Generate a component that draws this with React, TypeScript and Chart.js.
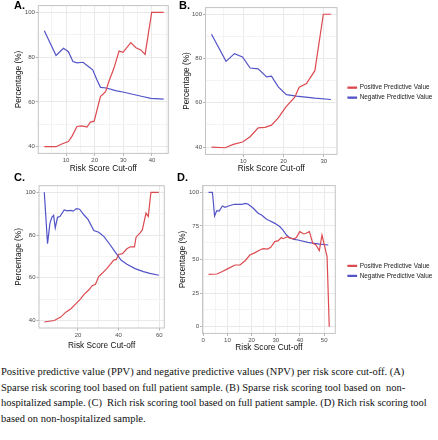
import React, { useEffect, useRef } from 'react';
import { Chart, registerables } from 'chart.js';

Chart.register(...registerables);

const PPV_LABEL = 'Positive Predictive Value';
const NPV_LABEL = 'Negative Predictive Value';
const X_TITLE = 'Risk Score Cut-off';
const Y_TITLE = 'Percentage (%)';

// Panel A
const aPpvX = [2.4, 6.5, 8.5, 10.8, 12.0, 13.8, 15.5, 17.3, 18.5, 19.8, 22.0, 23.8, 24.9, 26.7, 28.5, 29.9, 32.6, 34.4, 36.1, 37.6, 39.9, 44.1];
const aPpvY = [40, 40, 41.2, 42.3, 44.5, 49, 49.3, 48.8, 51, 51.4, 62.4, 64.6, 69, 75, 82.7, 82.1, 86.5, 84.2, 83.2, 81.2, 100, 100];
const aNpvX = [2.4, 6.5, 9.1, 10.8, 12.4, 13.8, 15.9, 17.9, 19.3, 20.8, 22.0, 24.1, 27.3, 30.2, 33.2, 36.7, 39.6, 44.1];
const aNpvY = [91.8, 80.7, 83.9, 82.4, 78, 77.4, 77.7, 75.7, 74.3, 69.8, 66.5, 66.2, 65, 64.3, 63.4, 62.4, 61.6, 61.2];

// Panel B
const bPpvX = [2.1, 5.5, 7.5, 9.8, 11.7, 13.7, 15.4, 17.0, 18.7, 20.6, 22.8, 23.9, 25.7, 27.8, 29.9, 31.8];
const bPpvY = [40, 39.7, 41.2, 42.3, 44.7, 48.7, 48.9, 49.9, 53.2, 58.2, 62.5, 67, 68.7, 74.5, 100, 100];
const bNpvX = [2.1, 5.7, 7.8, 9.8, 11.7, 13.7, 15.8, 17.0, 18.7, 20.7, 23.2, 27.8, 31.8];
const bNpvY = [91, 78.7, 82.2, 80.7, 75.7, 75.3, 71.7, 72, 67.2, 63.7, 63, 62.1, 61.5];

// Panel C
const cPpvX = [3.4, 8.3, 11.5, 14.0, 16.4, 18.9, 21.3, 22.9, 25.4, 27.0, 28.6, 30.2, 31.9, 34.3, 35.9, 37.6, 38.9, 40.0, 41.9, 44.1, 45.7, 47.8, 48.6, 50.6, 51.7, 53.5, 54.6, 55.9, 59.8];
const cPpvY = [39.3, 40, 41.6, 43.9, 45.4, 47.8, 50.1, 52.1, 54.4, 56.3, 57, 60.6, 62.1, 64.4, 66.3, 68.3, 68.6, 70.9, 71.3, 73.6, 74.5, 74.5, 79, 81, 82.5, 90.3, 88.7, 100, 100];
const cNpvX = [3.4, 5.0, 6.2, 7.2, 8.0, 8.8, 9.9, 11.1, 13.2, 14.8, 16.4, 17.6, 19.2, 20.8, 22.9, 25.0, 27.8, 30.2, 32.7, 35.1, 38.0, 41.3, 44.1, 48.1, 52.2, 55.4, 59.8];
const cNpvY = [100, 76, 85.6, 88.4, 89.2, 83.3, 88.3, 88.7, 91.8, 91.3, 91.5, 91.2, 92.4, 92.1, 89.5, 87.2, 82.1, 81.3, 79.4, 76.4, 72.5, 68.2, 66.3, 64.3, 62.9, 62.1, 61.2];

// Panel D
const dPpvX = [2.2, 5.6, 7.7, 10.4, 13.2, 15.2, 17.3, 19.3, 21.4, 23.4, 24.8, 26.6, 27.9, 29.6, 31.0, 32.3, 33.0, 34.8, 35.8, 37.5, 38.5, 39.9, 41.6, 42.5, 43.9, 45.3, 46.5, 48.0, 49.1, 50.3, 51.2, 52.1];
const dPpvY = [39, 39.2, 40.9, 43.4, 45.9, 45.9, 49.1, 53.3, 55.1, 57.1, 58.1, 57.8, 59.1, 63.3, 64, 66.3, 65.5, 67, 65.8, 65.3, 66.3, 70.7, 69, 69.5, 70.7, 62, 61, 56.6, 68.2, 59.1, 52.1, 0];
const dNpvX = [2.2, 3.8, 4.7, 5.6, 6.6, 7.9, 9.0, 10.4, 12.9, 15.9, 17.6, 18.6, 20.7, 22.7, 24.1, 26.2, 27.5, 29.6, 31.6, 32.9, 34.4, 35.7, 37.5, 39.2, 43.3, 46.0, 48.1, 51.7];
const dNpvY = [100, 100, 82.4, 86.4, 86.1, 89.8, 88.8, 89.8, 91.1, 91.1, 91.8, 91.1, 88.1, 84.4, 83.1, 79.9, 78.9, 76.9, 74.5, 72, 68.2, 66.3, 65, 64.5, 62.8, 62, 61.5, 60.8];

const captionLines = [
  'Positive predictive value (PPV) and negative predictive values (NPV) per risk score cut-off. (A)',
  'Sparse risk scoring tool based on full patient sample. (B) Sparse risk scoring tool based on  non-',
  'hospitalized sample. (C)  Rich risk scoring tool based on full patient sample. (D) Rich risk scoring tool',
  'based on non-hospitalized sample.',
];

const RED = '#dc4a50';
const BLUE = '#5252c9';
const FONT = "'Liberation Sans', Arial, sans-serif";

type PanelSpec = {
  label: string;
  left: number; top: number; width: number; height: number;
  padding: { left: number; top: number; right: number; bottom: number };
  yWidth: number; xHeight: number;
  yTitlePad: number; xTitlePad: number;
  xMin: number; xMax: number; xStep: number; xMajor: number;
  yMin: number; yMax: number; yStep: number; yMajor: number;
  ppvX: number[]; ppvY: number[]; npvX: number[]; npvY: number[];
  legend: boolean; legendShiftX: number; legendShiftY: number;
  labelX: number; labelY: number;
};

const isMajor = (v: number, major: number) => Math.abs(v / major - Math.round(v / major)) < 1e-6;

const borderPlugin = {
  id: 'panelBorder',
  afterDraw(chart: any) {
    const a = chart.chartArea;
    const ctx = chart.ctx;
    ctx.save();
    ctx.strokeStyle = '#c4c4c4';
    ctx.lineWidth = 1;
    ctx.strokeRect(a.left, a.top, a.right - a.left, a.bottom - a.top);
    ctx.restore();
  },
};

function Panel({ spec }: { spec: PanelSpec }) {
  const ref = useRef<HTMLCanvasElement | null>(null);
  useEffect(() => {
    if (!ref.current) return;
    const s = spec;
    const shiftPlugin = {
      id: 'legendShift',
      afterLayout(chart: any) {
        const l = chart.legend;
        if (l && s.legend) {
          l.left += s.legendShiftX;
          l.right = chart.width;
          l.width = l.right - l.left;
          l.top += s.legendShiftY; l.bottom += s.legendShiftY;
        }
      },
    };
    const axisGrid = (major: number) => ({
      color: (c: any) => (c.tick && isMajor(c.tick.value, major) ? '#e9e9e9' : '#f3f3f3'),
      lineWidth: 1,
      tickLength: 2.5,
      tickColor: (c: any) => (c.tick && isMajor(c.tick.value, major) ? '#b3b3b3' : 'rgba(0,0,0,0)'),
    });
    const tickFont = { family: FONT, size: 6 };
    const titleFont = { family: FONT, size: 8.3 };
    const chart = new Chart(ref.current, {
      type: 'line',
      data: {
        datasets: [
          {
            label: PPV_LABEL,
            data: s.ppvX.map((x, i) => ({ x, y: s.ppvY[i] })),
            borderColor: RED, backgroundColor: RED, borderWidth: 1.2,
            pointRadius: 0, tension: 0, fill: false,
          },
          {
            label: NPV_LABEL,
            data: s.npvX.map((x, i) => ({ x, y: s.npvY[i] })),
            borderColor: BLUE, backgroundColor: BLUE, borderWidth: 1.2,
            pointRadius: 0, tension: 0, fill: false,
          },
        ],
      },
      options: {
        responsive: false,
        animation: false,
        layout: { padding: s.padding },
        plugins: {
          tooltip: { enabled: false },
          legend: {
            display: s.legend,
            position: 'right',
            maxWidth: 60,
            labels: {
              boxWidth: 8.5, boxHeight: 1, padding: 3.6,
              color: '#1a1a1a', font: { family: FONT, size: 6.4 },
            },
          },
        },
        scales: {
          x: {
            type: 'linear', min: s.xMin, max: s.xMax,
            border: { display: false },
            grid: axisGrid(s.xMajor) as any,
            ticks: {
              stepSize: s.xStep, includeBounds: false, autoSkip: false, maxRotation: 0,
              padding: 1, color: '#4d4d4d', font: tickFont,
              callback: (v: any) => (isMajor(Number(v), s.xMajor) ? String(v) : ''),
            },
            title: { display: true, text: X_TITLE, color: '#111', font: titleFont, padding: { top: 0, bottom: s.xTitlePad } },
            afterFit: (sc: any) => { sc.height = s.xHeight; },
          },
          y: {
            type: 'linear', min: s.yMin, max: s.yMax,
            border: { display: false },
            grid: axisGrid(s.yMajor) as any,
            ticks: {
              stepSize: s.yStep, includeBounds: false, autoSkip: false,
              padding: 1, color: '#4d4d4d', font: tickFont,
              callback: (v: any) => (isMajor(Number(v), s.yMajor) ? String(v) : ''),
            },
            title: { display: true, text: Y_TITLE, color: '#111', font: titleFont, padding: { top: s.yTitlePad, bottom: 0 } },
            afterFit: (sc: any) => { sc.width = s.yWidth; },
          },
        },
      } as any,
      plugins: [borderPlugin, shiftPlugin],
    });
    return () => chart.destroy();
  }, [spec]);
  return (
    <>
      <canvas
        ref={ref}
        width={spec.width}
        height={spec.height}
        style={{ position: 'absolute', left: spec.left, top: spec.top, width: spec.width, height: spec.height }}
      />
      <div
        style={{
          position: 'absolute', left: spec.labelX, top: spec.labelY, font: `bold 11px ${FONT}`,
          color: '#000', lineHeight: '11px', whiteSpace: 'nowrap',
        }}
      >
        {spec.label}
      </div>
    </>
  );
}

const panels: PanelSpec[] = [
  {
    label: 'A.', left: 0, top: 0, width: 178, height: 176,
    padding: { left: 0, top: 5.6, right: 9.7, bottom: 0 },
    yWidth: 38.3, xHeight: 22.6, yTitlePad: 13.3, xTitlePad: 2.7,
    xMin: 0.3, xMax: 45.7, xStep: 5, xMajor: 10,
    yMin: 37, yMax: 103, yStep: 10, yMajor: 20,
    ppvX: aPpvX, ppvY: aPpvY, npvX: aNpvX, npvY: aNpvY,
    legend: false, legendShiftX: 0, legendShiftY: 0, labelX: 14, labelY: 0,
  },
  {
    label: 'B.', left: 180, top: 0, width: 258, height: 176,
    padding: { left: 0, top: 7.6, right: 41, bottom: 0 },
    yWidth: 25.5, xHeight: 21.6, yTitlePad: 1.7, xTitlePad: 2.7,
    xMin: 0.6, xMax: 33.3, xStep: 5, xMajor: 10,
    yMin: 36.7, yMax: 103, yStep: 10, yMajor: 20,
    ppvX: bPpvX, ppvY: bPpvY, npvX: bNpvX, npvY: bNpvY,
    legend: true, legendShiftX: 7.4, legendShiftY: 0.9, labelX: 179, labelY: 0,
  },
  {
    label: 'C.', left: 0, top: 176, width: 178, height: 178,
    padding: { left: 0, top: 9.7, right: 13.7, bottom: 0 },
    yWidth: 39, xHeight: 26, yTitlePad: 13.3, xTitlePad: 3.5,
    xMin: 0.8, xMax: 62.5, xStep: 10, xMajor: 20,
    yMin: 36.5, yMax: 103.1, yStep: 10, yMajor: 20,
    ppvX: cPpvX, ppvY: cPpvY, npvX: cNpvX, npvY: cNpvY,
    legend: false, legendShiftX: 0, legendShiftY: 0, labelX: 14, labelY: 172,
  },
  {
    label: 'D.', left: 175, top: 176, width: 263, height: 178,
    padding: { left: 0, top: 9.6, right: 42.7, bottom: 0 },
    yWidth: 27.5, xHeight: 20.6, yTitlePad: 2.7, xTitlePad: 1.7,
    xMin: -0.3, xMax: 54.6, xStep: 5, xMajor: 10,
    yMin: -5, yMax: 105, yStep: 12.5, yMajor: 25,
    ppvX: dPpvX, ppvY: dPpvY, npvX: dNpvX, npvY: dNpvY,
    legend: true, legendShiftX: 9.1, legendShiftY: 1, labelX: 177, labelY: 172,
  },
];

export default function App() {
  return (
    <div style={{ position: 'fixed', left: 0, top: 0, width: 438, height: 440, background: '#fff', overflow: 'hidden' }}>
      {panels.map((p) => (
        <Panel key={p.label} spec={p} />
      ))}
      <div
        style={{
          position: 'absolute', left: 1, top: 364, fontFamily: "'Liberation Serif', 'Times New Roman', serif",
          fontSize: 10.5, lineHeight: '15.7px', color: '#111', whiteSpace: 'pre',
        }}
      >
        {captionLines.map((l, i) => (
          <div key={i} style={i === 2 ? { letterSpacing: '-0.06px' } : undefined}>{l}</div>
        ))}
      </div>
    </div>
  );
}
